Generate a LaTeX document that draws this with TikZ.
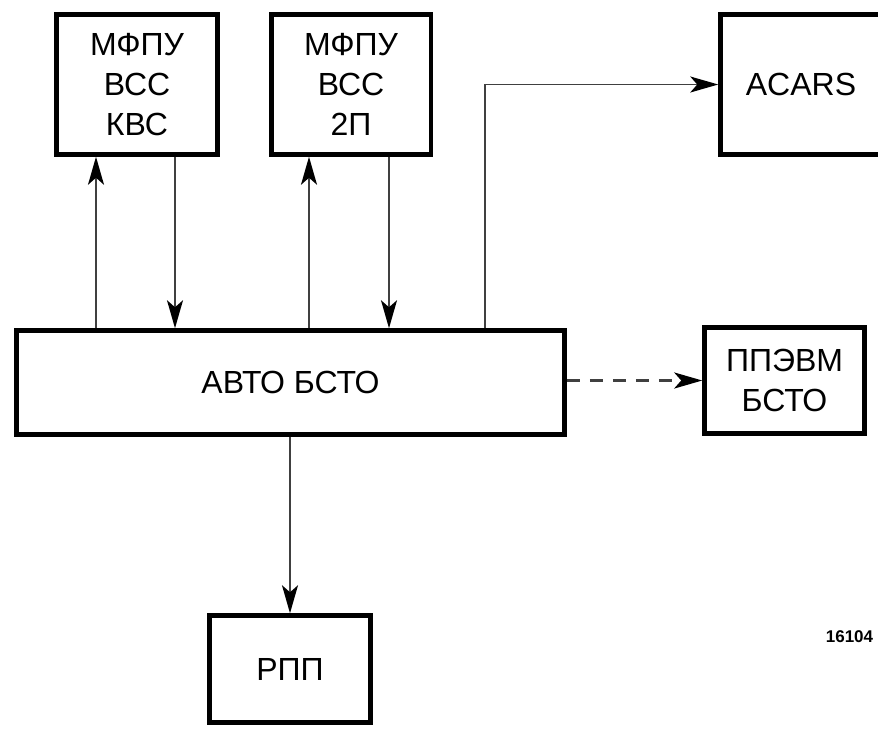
\documentclass[tikz,border=0pt]{standalone}
\usepackage{fontspec}
\setmainfont{Liberation Sans}
\usetikzlibrary{arrows.meta}

\begin{document}
\begin{tikzpicture}[x=1pt,y=-1pt,>={Stealth[length=28pt,width=16pt,inset=7pt,color=black]},
  blok/.style={draw,line width=4.5pt,align=center,inner sep=0pt,
    minimum width=161pt,font=\fontsize{32}{40}\selectfont},
  pil/.style={->,line width=1.9pt,draw=black!75}]
  \useasboundingbox (0,0) rectangle (878,729);

  \node[blok,minimum height=140pt] (kvs) at (137,84.5) {МФПУ\\ВСС\\КВС};
  \node[blok,minimum height=140pt,minimum width=159.5pt] (vp) at (351,84.5) {МФПУ\\ВСС\\2П};
  \node[blok,minimum height=140pt] (acars) at (801,84.5) {ACARS};
  \node[blok,minimum height=104pt,minimum width=548pt] (avto) at (290.5,382.5) {АВТО БСТО};
  \node[blok,minimum height=106pt,minimum width=160pt] (ppevm) at (784.5,380.5) {ППЭВМ\\БСТО};
  \node[blok,minimum height=107pt] (rpp) at (290,669) {РПП};
  \node[font=\fontsize{17}{20}\selectfont\bfseries] (nr) at (849.5,637) {16104};

  \coordinate (kvsup) at ([xshift=-41pt]kvs.south);
  \coordinate (kvsdn) at ([xshift=38pt]kvs.south);
  \coordinate (vpup) at ([xshift=-42pt]vp.south);
  \coordinate (vpdn) at ([xshift=38pt]vp.south);
  \coordinate (knick) at ([xshift=194.5pt]avto.north);

  \draw[pil] (kvsup |- avto.north) -- (kvsup);
  \draw[pil] (kvsdn) -- (kvsdn |- avto.north);
  \draw[pil] (vpup |- avto.north) -- (vpup);
  \draw[pil] (vpdn) -- (vpdn |- avto.north);
  \draw[pil] (knick) |- (acars.west);
  \draw[pil,line width=3pt,dash pattern=on 13pt off 10pt] (avto.east |- ppevm.west) -- (ppevm.west);
  \draw[pil] (avto.south -| rpp.north) -- (rpp.north);
\end{tikzpicture}
\end{document}
